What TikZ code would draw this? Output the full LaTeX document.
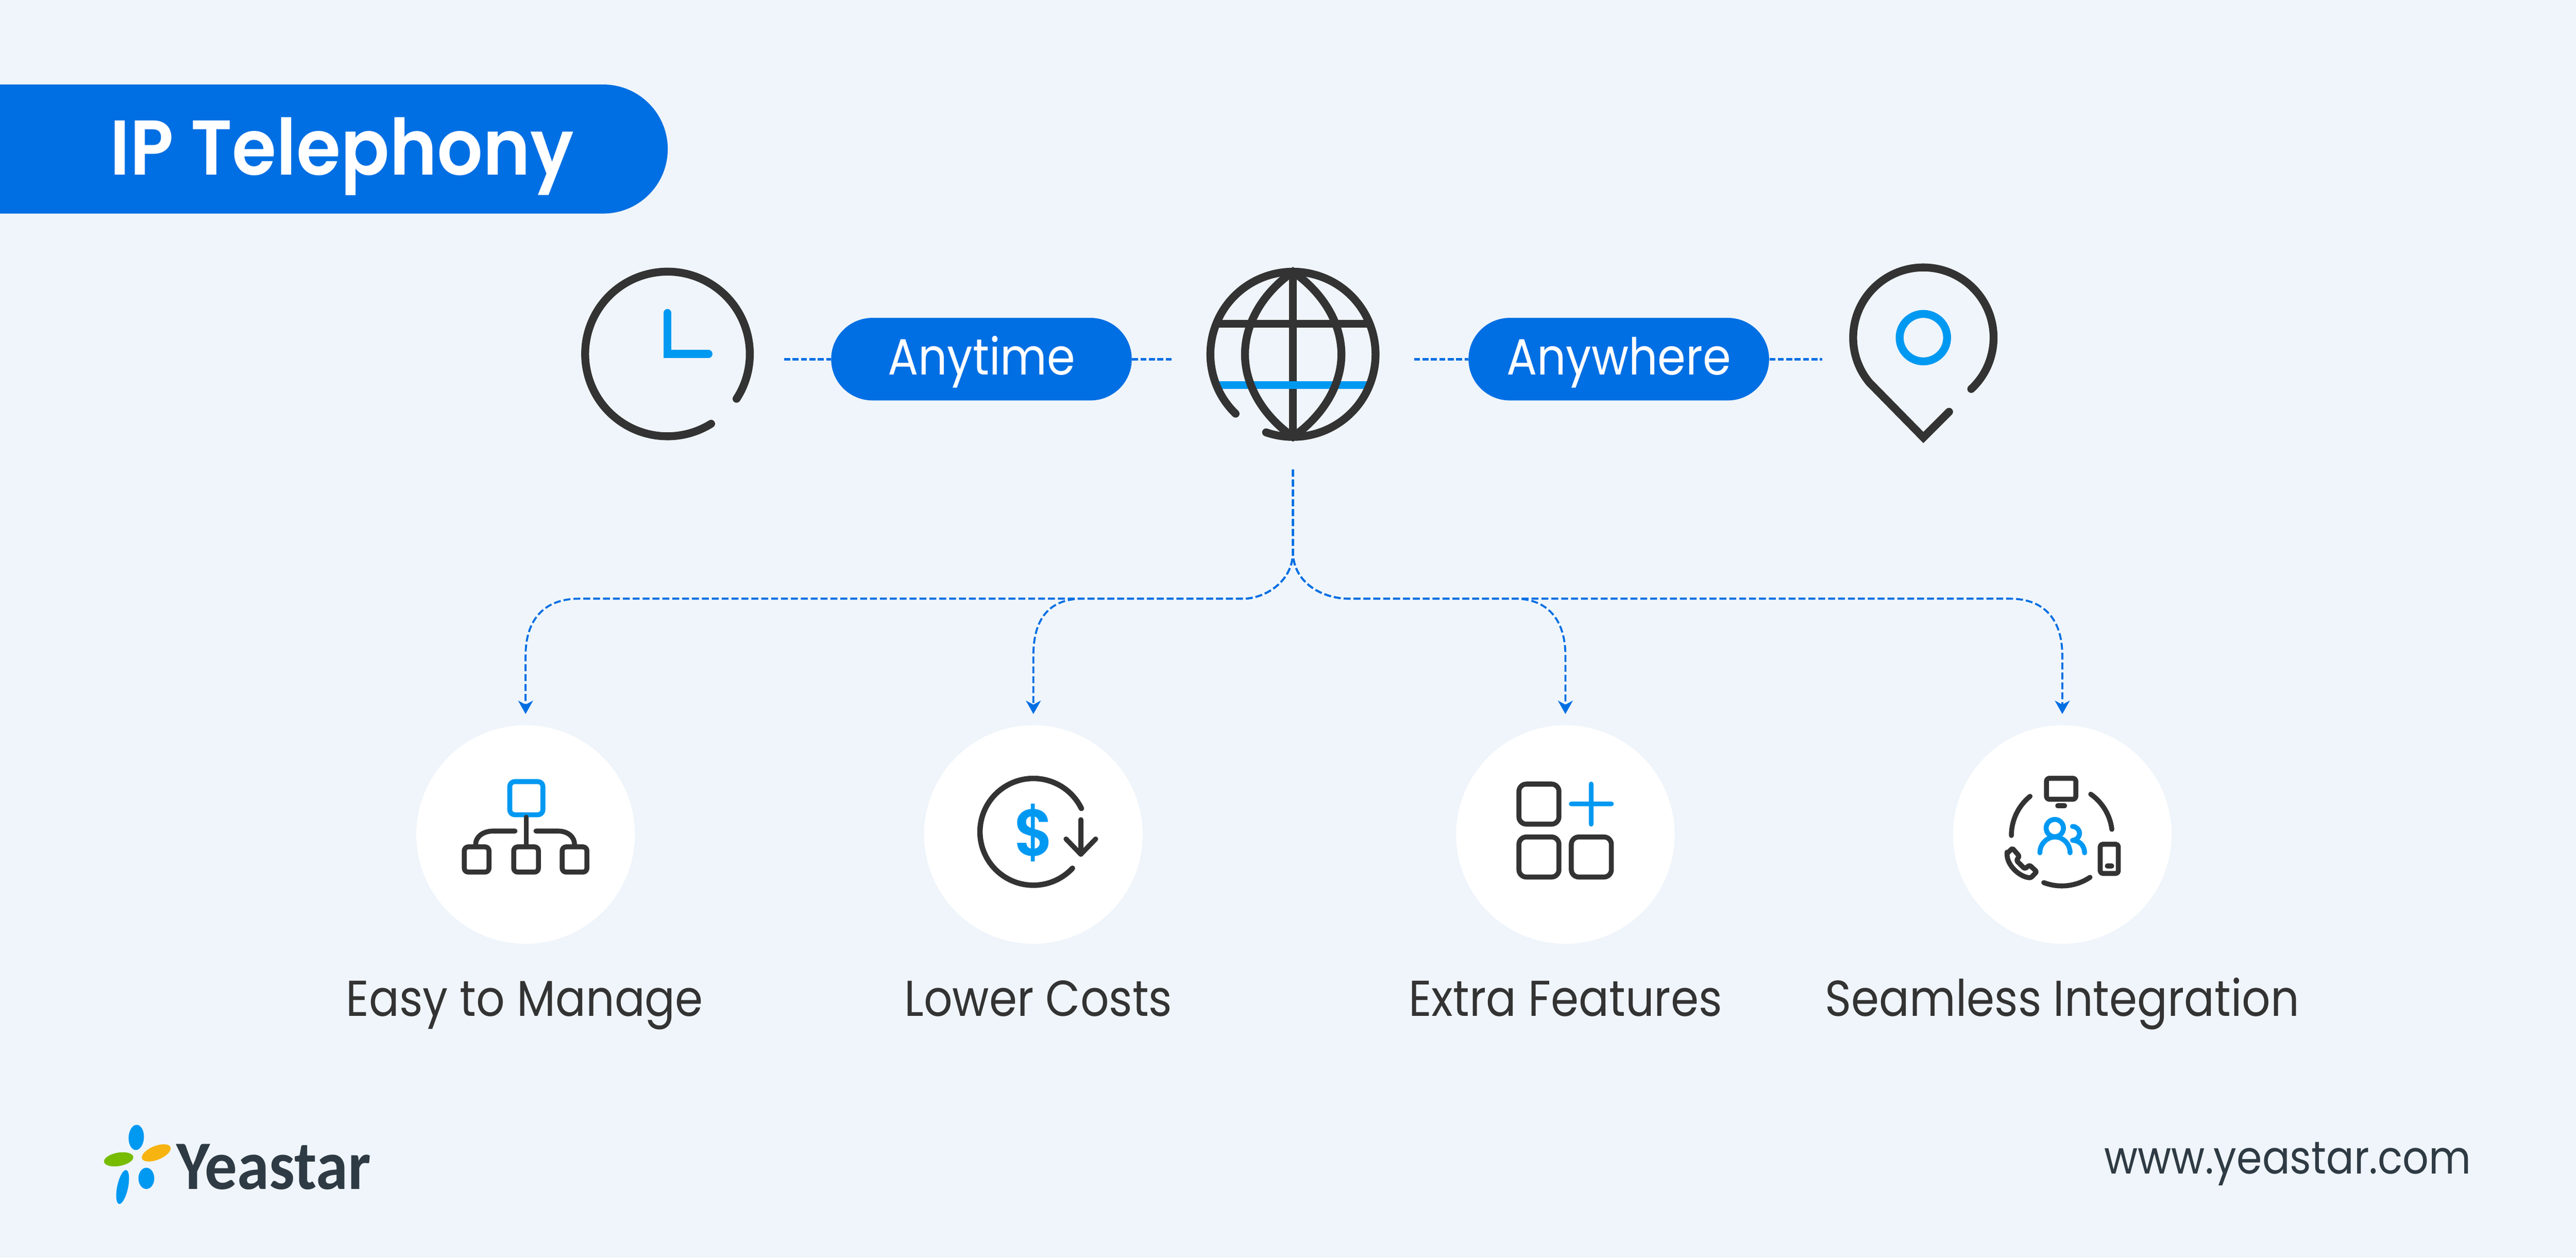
\documentclass[tikz,border=0pt]{standalone}
\usepackage{fontspec}
\setmainfont{Poppins}[BoldFont={Poppins SemiBold},FakeStretch=0.89]
\newfontfamily\logofont{Carlito}[FakeStretch=0.93]
\newfontfamily\headfont{Poppins SemiBold}[FakeStretch=0.925]
\usetikzlibrary{arrows.meta,positioning}

\definecolor{pagebg}{HTML}{EFF5FA}
\definecolor{mainblue}{HTML}{006FE3}
\definecolor{iconblue}{HTML}{0099F2}
\definecolor{icondark}{HTML}{333333}
\definecolor{logodark}{HTML}{2F3B44}
\definecolor{logogreen}{HTML}{77BC00}
\definecolor{logoorange}{HTML}{F7B30F}

\begin{document}
\begin{tikzpicture}[>={Stealth[length=.27cm,width=.3cm,inset=.08cm]},
    pill/.style={rounded corners=.835cm,fill=mainblue,text=white,inner sep=0,minimum width=6.08cm,
      minimum height=1.67cm,text height=.9cm,text depth=.26cm,font=\fontsize{29.3}{30}\selectfont},
    dotline/.style={mainblue,line width=.05cm,dash pattern=on .12cm off .05cm},
    treeline/.style={mainblue,line width=.04cm,dash pattern=on .14cm off .06cm,->,shorten >=.22cm},
    whitedisc/.style={circle,fill=white,inner sep=0,minimum size=4.42cm},
    caption/.style={text=icondark,anchor=base,inner sep=0,font=\fontsize{29}{30}\selectfont},
    bigline/.style={icondark,line width=.16cm,line cap=round},
    bigblue/.style={iconblue,line width=.16cm,line cap=round},
    smallline/.style={icondark,line width=.1cm,line cap=round,line join=round},
    smallblue/.style={iconblue,line width=.1cm,line cap=round,line join=round}]

  \fill[pagebg] (0,0) rectangle (52.1,25.44);
  \useasboundingbox (0,0) rectangle (52.1,25.44);

  % title
  \fill[mainblue] (0,23.73) -- (12.2,23.73) arc[start angle=90,end angle=-90,radius=1.305] -- (0,21.12) -- cycle;
  \node[anchor=base west,inner sep=0,text=white,font=\fontsize{44.7}{46}\selectfont\headfont] (title) at (2.22,21.90) {IP Telephony};

  % top row
  \node[pill] (anytime) at (19.85,18.175) {Anytime};
  \node[pill] (anywhere) at (32.74,18.175) {Anywhere};
  \coordinate (clock) at (13.50,18.28);
  \coordinate (globe) at (26.15,18.273);
  \coordinate (pin) at (38.90,18.61);
  \coordinate (clockside) at (15.86,18.175);
  \coordinate (globeleft) at (23.70,18.175);
  \coordinate (globeright) at (28.60,18.175);
  \coordinate (pinside) at (36.86,18.175);

  \draw[dotline] (clockside) -- (anytime);
  \draw[dotline] (anytime) -- (globeleft);
  \draw[dotline] (globeright) -- (anywhere);
  \draw[dotline] (anywhere) -- (pinside);

  \draw[bigline] (clock) ++(-33:1.665) arc[start angle=-33,end angle=302,radius=1.665];
  \draw[bigblue] (13.50,19.11) -- (clock) -- (14.33,18.28);

  \draw[bigline,line cap=butt] (26.15,19.94) -- (26.15,16.61);
  \draw[bigblue,line cap=butt] (24.60,17.65) -- (27.70,17.65);
  \draw[bigline,line cap=butt] (24.60,18.89) -- (27.70,18.89);
  \draw[bigline] (globe) ++(251:1.67) arc[start angle=251,end angle=586,radius=1.67];
  \draw[bigline,line cap=butt] (26.15,19.943) .. controls (25.56,19.53) and (25.18,18.92) .. (25.18,18.273)
    .. controls (25.18,17.63) and (25.56,17.02) .. (26.15,16.603)
    .. controls (26.74,17.02) and (27.13,17.63) .. (27.13,18.273)
    .. controls (27.13,18.92) and (26.74,19.53) .. cycle;

  \draw[bigline,line join=miter] (pin) ++(-47:1.42) arc[start angle=-47,end angle=220,radius=1.42] -- (38.90,16.59) -- (39.42,17.11);
  \draw[bigblue] (pin) circle[radius=.48];

  % features
  \node[whitedisc] (easy) at (10.63,8.56) {};
  \node[whitedisc] (lower) at (20.90,8.56) {};
  \node[whitedisc] (extra) at (31.66,8.56) {};
  \node[whitedisc] (seamless) at (41.71,8.56) {};

  \node[caption] (easytext) at (10.61,4.89) {Easy to Manage};
  \node[caption] (lowertext) at (21.00,4.89) {Lower Costs};
  \node[caption] (extratext) at (31.66,4.89) {Extra Features};
  \node[caption] (seamlesstext) at (41.71,4.89) {Seamless Integration};

  \coordinate (trunk) at (26.15,15.94);
  \draw[treeline] (trunk) -- (26.15,14.28) .. controls (26.15,13.65) and (25.55,13.33) .. (25.15,13.33) -- (11.71,13.33)
    .. controls (11.0,13.33) and (10.63,12.9) .. (10.63,12.18) -- (easy);
  \draw[treeline] (trunk) -- (26.15,14.28) .. controls (26.15,13.65) and (25.55,13.33) .. (25.15,13.33) -- (21.90,13.33)
    .. controls (21.2,13.33) and (20.90,12.9) .. (20.90,12.18) -- (lower);
  \draw[treeline] (trunk) -- (26.15,14.28) .. controls (26.15,13.65) and (26.75,13.33) .. (27.28,13.33) -- (30.64,13.33)
    .. controls (31.3,13.33) and (31.66,12.9) .. (31.66,12.18) -- (extra);
  \draw[treeline] (trunk) -- (26.15,14.28) .. controls (26.15,13.65) and (26.75,13.33) .. (27.28,13.33) -- (40.65,13.33)
    .. controls (41.35,13.33) and (41.71,12.9) .. (41.71,12.18) -- (seamless);

  % org chart
  \draw[smallblue,rounded corners=.1cm] (10.31,8.96) rectangle (10.98,9.63);
  \draw[smallline] (10.645,8.91) -- (10.645,8.36);
  \draw[smallline] (10.416,8.63) -- (9.98,8.63) .. controls (9.75,8.63) and (9.62,8.5) .. (9.62,8.36);
  \draw[smallline] (10.84,8.63) -- (11.28,8.63) .. controls (11.5,8.63) and (11.62,8.5) .. (11.62,8.36);
  \draw[smallline,rounded corners=.08cm] (9.39,7.80) rectangle (9.89,8.31);
  \draw[smallline,rounded corners=.08cm] (10.39,7.80) rectangle (10.89,8.31);
  \draw[smallline,rounded corners=.08cm] (11.37,7.80) rectangle (11.87,8.31);

  % dollar
  \coordinate (coin) at (20.90,8.614);
  \draw[smallline,line width=.11cm] (coin) ++(26:1.08) arc[start angle=26,end angle=317,radius=1.08];
  \node[inner sep=0,text=iconblue,font=\fontsize{38}{40}\selectfont\headfont] (dollar) at (20.92,8.59) {\$};
  \draw[smallline] (21.86,8.86) -- (21.86,8.16);
  \draw[smallline] (21.56,8.47) -- (21.86,8.16) -- (22.16,8.47);

  % squares and plus
  \draw[smallline,rounded corners=.15cm] (30.72,8.77) rectangle (31.53,9.58);
  \draw[smallline,rounded corners=.15cm] (30.72,7.70) rectangle (31.53,8.51);
  \draw[smallline,rounded corners=.15cm] (31.78,7.70) rectangle (32.59,8.51);
  \draw[smallblue] (31.78,9.18) -- (32.59,9.18);
  \draw[smallblue] (32.18,8.77) -- (32.18,9.58);

  % people ring
  \coordinate (ring) at (41.70,8.54);
  \draw[smallline] (ring) ++(129:1.02) arc[start angle=129,end angle=180,radius=1.02];
  \draw[smallline] (ring) ++(55:1.02) arc[start angle=55,end angle=7,radius=1.02];
  \draw[smallline] (ring) ++(249:1.02) arc[start angle=249,end angle=304,radius=1.02];
  \draw[smallline,rounded corners=.06cm] (41.39,9.273) rectangle (41.983,9.697);
  \draw[smallline] (41.617,9.14) -- (41.757,9.14);
  \draw[smallline,rounded corners=.05cm] (42.477,7.773) rectangle (42.843,8.363);
  \draw[smallline] (42.62,7.923) -- (42.71,7.923);
  \draw[smallline,rounded corners=.03cm] (40.593,8.173) -- (40.70,8.283) -- (40.84,8.123) -- (40.783,8.033) -- (40.95,7.867)
    -- (41.05,7.94) -- (41.193,7.807) -- (41.073,7.683) .. controls (40.833,7.707) and (40.60,7.94) .. cycle;
  \draw[smallblue] (41.558,8.69) circle[radius=.175];
  \draw[smallblue] (41.257,8.19) arc[start angle=180,end angle=0,x radius=.305,y radius=.32];
  \draw[smallblue] (41.917,8.723) arc[start angle=90,end angle=-90,radius=.14]
    .. controls (42.07,8.44) and (42.16,8.32) .. (42.16,8.19);

  % logo
  \fill[iconblue,shift={(2.756,2.433)},rotate=-3] (0,0) ellipse[x radius=.155,y radius=.255];
  \fill[logoorange,shift={(3.16,2.12)},rotate=22] (0,0) ellipse[x radius=.31,y radius=.14];
  \fill[logogreen,shift={(2.40,1.99)},rotate=10] (0,0) ellipse[x radius=.30,y radius=.135];
  \fill[iconblue,shift={(2.48,1.43)},rotate=-12] (0,0) ellipse[x radius=.11,y radius=.35];
  \fill[iconblue] (2.96,1.605) ellipse[x radius=.16,y radius=.215];
  \node[anchor=base west,inner sep=0,text=logodark,font=\fontsize{40}{42}\selectfont\logofont\bfseries] (yeastar) at (3.56,1.39) {Yeastar};
  \node[anchor=base,inner sep=0,text=logodark,font=\fontsize{26.5}{28}\selectfont] (website) at (46.27,1.70) {www.yeastar.com};
\end{tikzpicture}
\end{document}
